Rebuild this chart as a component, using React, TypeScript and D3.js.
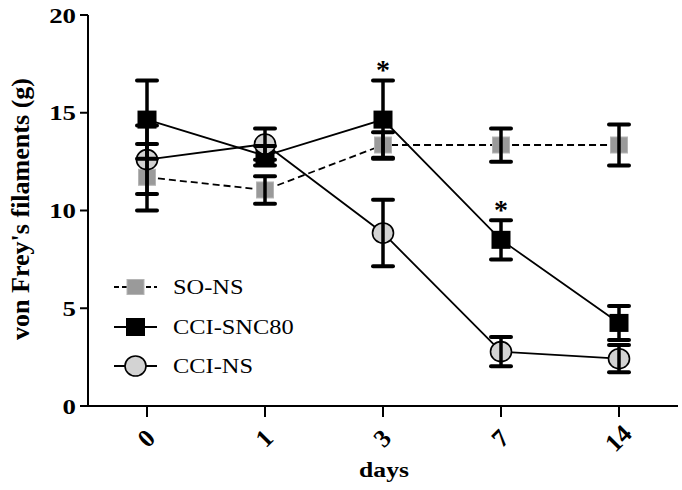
import React from "react";
import * as d3 from "d3";

const days = ["0", "1", "3", "7", "14"];
const soNsMean = [11.7, 11.05, 13.35, 13.35, 13.35];
const soNsErr = [1.7, 0.7, 0.65, 0.85, 1.05];
const sncMean = [14.65, 12.8, 14.65, 8.5, 4.25];
const sncErr = [2.0, 0.5, 2.0, 1.0, 0.87];
const ccinsMean = [12.6, 13.4, 8.85, 2.78, 2.42];
const ccinsErr = [1.75, 0.8, 1.7, 0.75, 0.7];
const sncSignificant = [false, false, true, true, false];
const yTicks = [0, 5, 10, 15, 20];
const seriesNames = ["SO-NS", "CCI-SNC80", "CCI-NS"];
const yLabel = "von Frey's filaments (g)";
const xLabel = "days";

const W = 682;
const H = 490;
const FONT = "Liberation Serif";
const SX = 1.22;

export default function App() {
  const x = d3.scalePoint<string>().domain(days).range([88, 678]).padding(0.5);
  const y = d3.scaleLinear().domain([0, 20]).range([406, 15]);

  const series = [
    { name: seriesNames[0], mean: soNsMean, err: soNsErr, kind: "gray", dash: "7,4" },
    { name: seriesNames[1], mean: sncMean, err: sncErr, kind: "black", dash: undefined },
    { name: seriesNames[2], mean: ccinsMean, err: ccinsErr, kind: "circle", dash: undefined },
  ];

  const line = d3
    .line<number>()
    .x((_, i) => x(days[i]) as number)
    .y((d) => y(d));

  const marker = (kind: string, cx: number, cy: number, key: string, legend = false) => {
    if (kind === "gray")
      return (
        <rect key={key} x={cx - 8.5} y={cy - (legend ? 7.5 : 8)} width={17} height={legend ? 15 : 16}
          fill="#9a9a9a" stroke="#b5b5b5" strokeWidth={1} />
      );
    if (kind === "black")
      return <rect key={key} x={cx - 9.5} y={cy - 9} width={19} height={18} fill="#000" />;
    return <ellipse key={key} cx={cx} cy={cy} rx={10.5} ry={10} fill="#d3d3d3" stroke="#000" strokeWidth={1.6} />;
  };

  const legendRows = [287, 327, 366];
  const ts = { fontFamily: FONT };

  return (
    <svg width={W} height={H} style={{ position: "absolute", left: 0, top: 0, background: "#fff" }}>
      <rect width={W} height={H} fill="#fff" />
      {/* axes */}
      <line x1={88} x2={88} y1={y(20)} y2={y(0) + 1} stroke="#000" strokeWidth={2} />
      <line x1={87} x2={678} y1={y(0)} y2={y(0)} stroke="#000" strokeWidth={2} />
      {yTicks.map((t) => (
        <g key={"yt" + t}>
          <line x1={80} x2={88} y1={y(t)} y2={y(t)} stroke="#000" strokeWidth={2} />
          <text transform={`translate(76,${y(t) + 7.5}) scale(${SX},1)`} textAnchor="end"
            style={ts} fontWeight="bold" fontSize={22}>{t}</text>
        </g>
      ))}
      {days.map((d) => (
        <g key={"xt" + d}>
          <line x1={x(d)} x2={x(d)} y1={y(0)} y2={y(0) + 11} stroke="#000" strokeWidth={2} />
          <text transform={`translate(${(x(d) as number) - 1},${438}) rotate(-45) scale(1.15,1.15)`} textAnchor="middle"
            dy="0.35em" style={ts} fontWeight="bold" fontSize={22}>{d}</text>
        </g>
      ))}
      <text transform={`translate(384,477) scale(${SX},1)`} textAnchor="middle" style={ts}
        fontWeight="bold" fontSize={21}>{xLabel}</text>
      <text transform={`translate(29,209) rotate(-90) scale(1,1.2)`} textAnchor="middle" style={ts}
        fontWeight="bold" fontSize={21} textLength={262} lengthAdjust="spacingAndGlyphs">{yLabel}</text>

      {/* lines */}
      {series.map((s) => (
        <path key={"l" + s.name} d={line(s.mean) || ""} fill="none" stroke="#000" strokeWidth={1.8}
          strokeDasharray={s.dash} />
      ))}
      {/* markers */}
      {series.map((s) =>
        s.mean.map((m, i) => marker(s.kind, x(days[i]) as number, y(m), s.name + "m" + i))
      )}
      {/* error bars */}
      {series.map((s) =>
        s.mean.map((m, i) => {
          const cx = x(days[i]) as number;
          const top = y(m + s.err[i]);
          const bot = y(m - s.err[i]);
          return (
            <g key={s.name + "e" + i} stroke="#000">
              <line x1={cx} x2={cx} y1={top} y2={bot} strokeWidth={3.5} />
              <line x1={cx - 10} x2={cx + 10} y1={top} y2={top} strokeWidth={4} strokeLinecap="round" />
              <line x1={cx - 10} x2={cx + 10} y1={bot} y2={bot} strokeWidth={4} strokeLinecap="round" />
            </g>
          );
        })
      )}
      {/* significance stars */}
      {sncSignificant.map((sig, i) =>
        sig ? (
          <text key={"star" + i} x={x(days[i]) as number} y={y(sncMean[i] + sncErr[i]) - 1}
            textAnchor="middle" style={ts} fontWeight="bold" fontSize={28}>*</text>
        ) : null
      )}

      {/* legend */}
      {series.map((s, i) => (
        <g key={"lg" + s.name}>
          <line x1={114} x2={157} y1={legendRows[i]} y2={legendRows[i]} stroke="#000" strokeWidth={1.8}
            strokeDasharray={s.dash ? "5,3" : undefined} />
          {marker(s.kind, 135.5, legendRows[i], "lgm" + i, true)}
          <text transform={`translate(173,${legendRows[i] + 7}) scale(${SX},1)`} style={ts}
            fontSize={20}>{s.name}</text>
        </g>
      ))}
    </svg>
  );
}
